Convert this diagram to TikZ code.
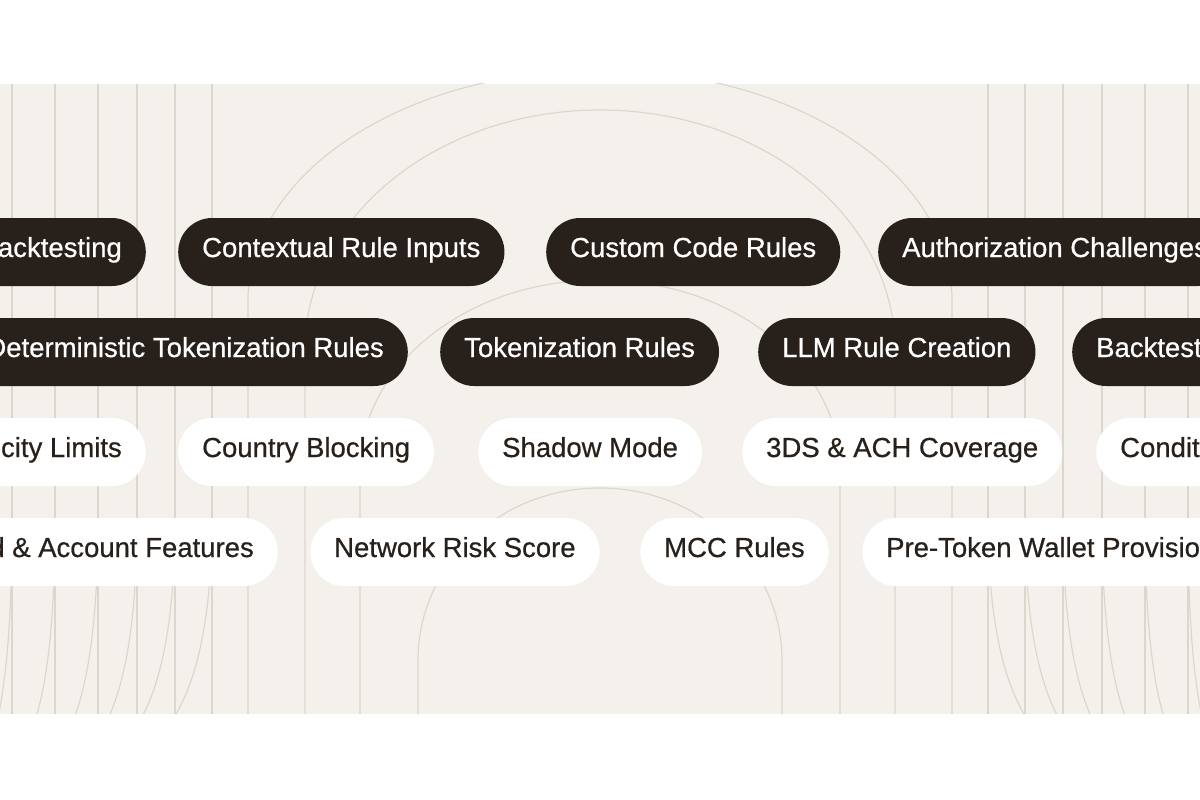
\documentclass[tikz,border=0pt]{standalone}
\usepackage{fontspec}
\setmainfont{Liberation Sans}[FakeBold=0.6]
\definecolor{ink}{HTML}{28201A}
\definecolor{band}{HTML}{F4F1EC}
\definecolor{gl}{HTML}{DCD6CD}
\begin{document}
\begin{tikzpicture}[x=1pt,y=-1pt,
  pill/.style={rounded corners=34pt,minimum height=68pt,inner xsep=24pt,inner ysep=0pt,text height=18pt,text depth=8pt,font=\fontsize{27.5}{30}\selectfont},
  dark/.style={pill,fill=ink,text=white},
  light/.style={pill,fill=white,text=ink},
  bgl/.style={draw=gl,line width=1.2pt}]
\useasboundingbox (0,0) rectangle (1200,800);
\fill[white] (0,0) rectangle (1200,800);
\begin{scope}
\clip (0,84) rectangle (1200,714);
\fill[band] (0,84) rectangle (1200,714);
% vertical lines
\foreach \x in {12,55,98,137,175,212} {
  \draw[bgl] (\x,84) -- (\x,714);
  \draw[bgl] (1200-\x,84) -- (1200-\x,714);
}
% fanning curves at the bottom corners
\foreach \x/\d in {12/-30,55/-40,98/-50,137/-60,175/-70,212/-80} {
  \draw[bgl] (\x,520) .. controls (\x,620) and (\x+\d*0.2,680) .. (\x+\d*0.45,714);
  \draw[bgl] (1200-\x,520) .. controls (1200-\x,620) and (1200-\x-\d*0.2,680) .. (1200-\x-\d*0.45,714);
}
% arches
\draw[bgl] (248,714) -- (248,300) arc[start angle=180,end angle=360,x radius=352,y radius=230] -- (952,714);
\draw[bgl] (305,714) -- (305,350) arc[start angle=180,end angle=360,x radius=295,y radius=240] -- (895,714);
\draw[bgl] (360,714) -- (360,470) arc[start angle=180,end angle=360,x radius=240,y radius=190] -- (840,714);
\draw[bgl] (418,714) -- (418,660) arc[start angle=180,end angle=360,x radius=182,y radius=172] -- (782,714);
\end{scope}
% row 1
\node[dark,anchor=east] (r1a) at (146,252) {Backtesting};
\node[dark,anchor=west] (r1b) at (178,252) {Contextual Rule Inputs};
\node[dark,anchor=west] (r1c) at (546,252) {Custom Code Rules};
\node[dark,anchor=west] (r1d) at (878,252) {Authorization Challenges};
% row 2
\node[dark,anchor=east] (r2a) at (408,352) {Deterministic Tokenization Rules};
\node[dark,anchor=west] (r2b) at (440,352) {Tokenization Rules};
\node[dark,anchor=west] (r2c) at (758,352) {LLM Rule Creation};
\node[dark,anchor=west] (r2d) at (1072,352) {Backtesting};
% row 3
\node[light,anchor=east] (r3a) at (146,452) {Velocity Limits};
\node[light,anchor=west] (r3b) at (178,452) {Country Blocking};
\node[light,anchor=west] (r3c) at (478,452) {Shadow Mode};
\node[light,anchor=west] (r3d) at (742,452) {3DS \& ACH Coverage};
\node[light,anchor=west] (r3e) at (1096,452) {Conditional Rules};
% row 4
\node[light,anchor=east] (r4a) at (278,552) {Card \& Account Features};
\node[light,anchor=west] (r4b) at (310,552) {Network Risk Score};
\node[light,anchor=west] (r4c) at (640,552) {MCC Rules};
\node[light,anchor=west] (r4d) at (862,552) {Pre-Token Wallet Provisioning};
% cover overflow outside the picture
\fill[white] (-2000,0) rectangle (0,800);
\fill[white] (1200,0) rectangle (3000,800);
\useasboundingbox (0,0) rectangle (1200,800);
\end{tikzpicture}
\end{document}
